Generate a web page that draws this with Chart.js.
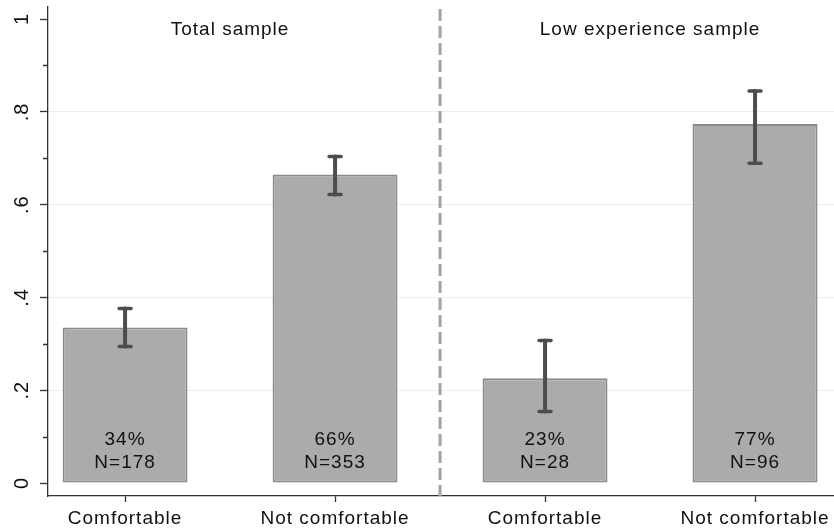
<!DOCTYPE html>
<html>
<head>
  <meta charset="utf-8">
  <title>Comfortable vs not comfortable</title>
  <script src="https://cdn.jsdelivr.net/npm/chart.js"></script>
  <style>
    body {
      margin: 0;
      background-color: #fff;
    }
    .chart-container {
      position: relative;
      width: 834px;
      height: 531px;
    }
  </style>
</head>
<body>
  <div class="chart-container">
    <canvas id="chartBars"></canvas>
  </div>

  <script>
    // Categories and positions along the x axis
    const categories = ["Comfortable", "Not comfortable", "Comfortable", "Not comfortable"];
    const xPositions = [1, 2, 3, 4];

    // Share of respondents, with confidence interval ends
    const shares = [0.335, 0.665, 0.226, 0.774];
    const ciLow = [0.294, 0.622, 0.154, 0.689];
    const ciHigh = [0.376, 0.704, 0.307, 0.845];

    // Text printed inside each bar
    const pctLabels = ["34%", "66%", "23%", "77%"];
    const nLabels = ["N=178", "N=353", "N=28", "N=96"];

    // Panel titles, centred over each pair of bars
    const groupTitles = ["Total sample", "Low experience sample"];
    const groupCenters = [1.5, 3.5];
    const groupSplit = 2.5;

    // Y axis tick values and labels
    const yTickValues = [0, 0.2, 0.4, 0.6, 0.8, 1];
    const yTickLabels = ["0", ".2", ".4", ".6", ".8", "1"];
    const yMinorTicks = [0.1, 0.3, 0.5, 0.7, 0.9];

    const FONT = "'Liberation Sans', Arial, Helvetica, sans-serif";
    const TEXT = '#111';

    const isMajor = v => yTickValues.findIndex(t => Math.abs(t - v) < 1e-6);

    // Extra drawing: minor ticks, separator, error bars, bar labels and panel titles
    const annotations = {
      id: 'annotations',
      beforeDraw(chart) {
        chart.ctx.letterSpacing = '1px';
      },
      afterDatasetsDraw(chart) {
        const ctx = chart.ctx;
        const xs = chart.scales.x;
        const ys = chart.scales.y;
        const area = chart.chartArea;

        ctx.save();
        // short minor ticks on the y axis
        ctx.strokeStyle = '#333';
        ctx.lineWidth = 1.3;
        ctx.beginPath();
        yMinorTicks.forEach(v => {
          const y = Math.round(ys.getPixelForValue(v)) + 0.5;
          ctx.moveTo(area.left - 5, y);
          ctx.lineTo(area.left, y);
        });
        ctx.stroke();

        // dashed separator between the two samples
        const sx = xs.getPixelForValue(groupSplit);
        ctx.strokeStyle = '#a3a3a3';
        ctx.lineWidth = 3;
        ctx.setLineDash([12, 5]);
        ctx.beginPath();
        ctx.moveTo(sx, area.top + 2);
        ctx.lineTo(sx, area.bottom);
        ctx.stroke();
        ctx.setLineDash([]);

        // error bars
        ctx.strokeStyle = '#4d4d4d';
        ctx.lineCap = 'round';
        xPositions.forEach((xv, i) => {
          const x = xs.getPixelForValue(xv);
          const yLo = ys.getPixelForValue(ciLow[i]);
          const yHi = ys.getPixelForValue(ciHigh[i]);
          ctx.lineWidth = 4;
          ctx.beginPath();
          ctx.moveTo(x, yLo);
          ctx.lineTo(x, yHi);
          ctx.stroke();
          ctx.lineWidth = 3.5;
          ctx.beginPath();
          ctx.moveTo(x - 6, yLo);
          ctx.lineTo(x + 6, yLo);
          ctx.moveTo(x - 6, yHi);
          ctx.lineTo(x + 6, yHi);
          ctx.stroke();
        });

        // labels inside the bars
        const y0 = ys.getPixelForValue(0);
        ctx.fillStyle = TEXT;
        ctx.font = '19px ' + FONT;
        ctx.letterSpacing = '1px';
        ctx.textAlign = 'center';
        ctx.textBaseline = 'alphabetic';
        xPositions.forEach((xv, i) => {
          const x = xs.getPixelForValue(xv);
          ctx.fillText(pctLabels[i], x, y0 - 38);
          ctx.fillText(nLabels[i], x, y0 - 15);
        });

        // panel titles
        groupTitles.forEach((t, i) => {
          ctx.fillText(t, xs.getPixelForValue(groupCenters[i]), area.top + 28);
        });
        ctx.restore();
      }
    };

    const ctxBars = document.getElementById('chartBars').getContext('2d');
    const chartBars = new Chart(ctxBars, {
      type: 'bar',
      data: {
        datasets: [{
          data: xPositions.map((x, i) => ({ x: x, y: shares[i] })),
          backgroundColor: '#ababab',
          borderColor: '#8a8a8a',
          borderWidth: 2,
          borderSkipped: false,
          categoryPercentage: 1,
          barPercentage: 0.595
        }]
      },
      options: {
        responsive: true,
        maintainAspectRatio: false,
        animation: false,
        layout: { padding: { top: 7, right: 0, left: 0, bottom: 0 } },
        plugins: {
          legend: { display: false },
          tooltip: { enabled: false }
        },
        scales: {
          x: {
            type: 'linear',
            offset: false,
            min: 0.633,
            max: 4.376,
            afterBuildTicks: scale => {
              scale.ticks = xPositions.map(v => ({ value: v }));
            },
            afterFit: scale => {
              scale.height = 35;
              scale.paddingLeft = 0;
              scale.paddingRight = 0;
            },
            ticks: {
              color: TEXT,
              font: { family: FONT, size: 19 },
              padding: 5,
              maxRotation: 0,
              callback: (value, index) => categories[index]
            },
            grid: {
              offset: false,
              drawOnChartArea: false,
              tickLength: 6,
              tickColor: '#333',
              tickWidth: 1.3
            },
            border: { display: true, color: '#333', width: 1.3 }
          },
          y: {
            min: -0.028,
            max: 1.026,
            afterBuildTicks: scale => {
              scale.ticks = yTickValues.concat(yMinorTicks)
                .sort((a, b) => a - b)
                .map(v => ({ value: v }));
            },
            afterFit: scale => {
              scale.width = 48;
              scale.paddingTop = 0;
              scale.paddingBottom = 0;
            },
            ticks: {
              color: TEXT,
              font: { family: FONT, size: 20 },
              minRotation: 90,
              maxRotation: 90,
              crossAlign: 'center',
              padding: 9,
              callback: value => {
                const k = isMajor(value);
                return k >= 0 ? yTickLabels[k] : '';
              }
            },
            grid: {
              tickLength: 8,
              tickWidth: 1.3,
              tickColor: c => (c.tick && isMajor(c.tick.value) >= 0) ? '#333' : 'rgba(0,0,0,0)',
              color: c => {
                const k = c.tick ? isMajor(c.tick.value) : -1;
                return (k > 0 && k < yTickValues.length - 1) ? '#e6eff1' : 'rgba(0,0,0,0)';
              }
            },
            border: { display: true, color: '#333', width: 1.3 }
          }
        }
      },
      plugins: [annotations]
    });
  </script>
</body>
</html>
